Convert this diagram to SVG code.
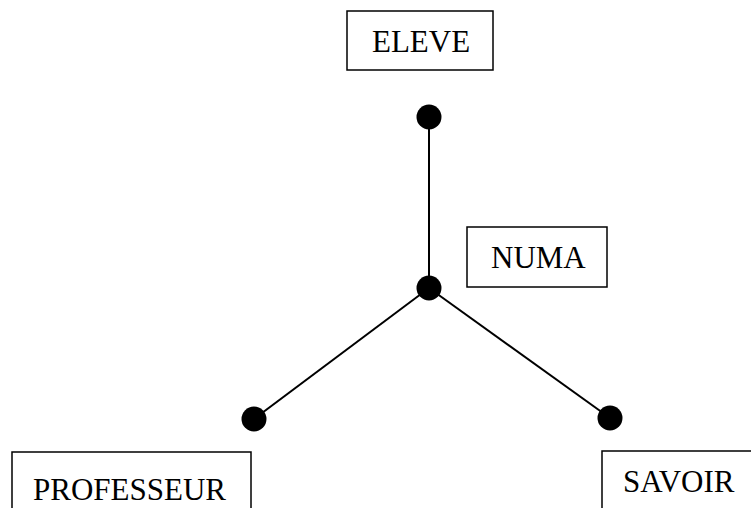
<svg xmlns="http://www.w3.org/2000/svg" width="751" height="508" viewBox="0 0 751 508">
<style>
.box{fill:#fff;stroke:#000;stroke-width:1.5}
.lbl{font-family:"Liberation Serif","Times New Roman",serif;font-size:31px;fill:#000}
.ln{stroke:#000;stroke-width:2;fill:none}
.dot{fill:#000}
</style>
<rect width="751" height="508" fill="#fff"/>
<g id="connectors">
<line class="ln" x1="429" y1="117" x2="429" y2="288"/>
<line class="ln" x1="429" y1="288" x2="254" y2="419"/>
<line class="ln" x1="429" y1="288" x2="610" y2="418"/>
<circle class="dot" cx="429" cy="117" r="12.5"/>
<circle class="dot" cx="429" cy="288" r="12.5"/>
<circle class="dot" cx="254" cy="419" r="12.5"/>
<circle class="dot" cx="610" cy="418" r="12.5"/>
</g>
<g id="eleve">
<rect class="box" x="347" y="11" width="146" height="59"/>
<text class="lbl" x="372" y="52">ELEVE</text>
</g>
<g id="numa">
<rect class="box" x="467" y="227" width="140" height="60"/>
<text class="lbl" x="491" y="268">NUMA</text>
</g>
<g id="professeur">
<rect class="box" x="12" y="452" width="239" height="70"/>
<text class="lbl" x="33" y="500">PROFESSEUR</text>
</g>
<g id="savoir">
<rect class="box" x="602" y="451" width="160" height="70"/>
<text class="lbl" x="623" y="492">SAVOIR</text>
</g>
</svg>
